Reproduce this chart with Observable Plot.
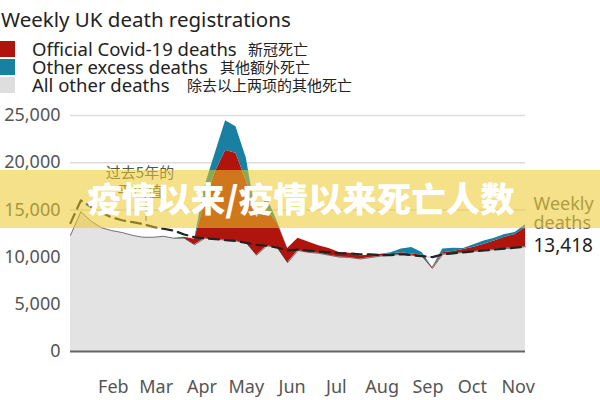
<!DOCTYPE html>
<html><head><meta charset="utf-8">
<script src="https://cdn.jsdelivr.net/npm/d3@7"></script>
<script src="https://cdn.jsdelivr.net/npm/@observablehq/plot@0.6"></script>
<style>
body{margin:0;background:#fff;}
#wrap{position:relative;width:600px;height:400px;overflow:hidden;background:#fff;}
#chart{position:absolute;left:0;top:0;}
#overlay{position:absolute;left:0;top:0;}
</style></head><body>
<div id="wrap"><div id="chart"></div>
<svg id="overlay" width="600" height="400" font-family="'Noto Sans', sans-serif"></svg>
</div>
<script>
// Week ending dates (UK weekly death registrations, 2020)
const weeks = ["2020-01-03","2020-01-10","2020-01-17","2020-01-24","2020-01-31","2020-02-07","2020-02-14","2020-02-21","2020-02-28","2020-03-06","2020-03-13","2020-03-20","2020-03-27","2020-04-03","2020-04-10","2020-04-17","2020-04-24","2020-05-01","2020-05-08","2020-05-15","2020-05-22","2020-05-29","2020-06-05","2020-06-12","2020-06-19","2020-06-26","2020-07-03","2020-07-10","2020-07-17","2020-07-24","2020-07-31","2020-08-07","2020-08-14","2020-08-21","2020-08-28","2020-09-04","2020-09-11","2020-09-18","2020-09-25","2020-10-02","2020-10-09","2020-10-16","2020-10-23","2020-10-30","2020-11-06"];
const allOther = [12300,14800,13800,13100,12800,12600,12300,12100,12100,12200,12000,12000,11300,12000,11900,11800,11700,11500,10200,11200,11000,9400,10700,10500,10400,10200,10000,9950,9800,9950,10100,10200,10300,10200,10100,8800,10300,10400,10500,10600,10700,10800,10900,11000,11100];
const covid = [0,0,0,0,0,0,0,0,0,0,0,100,600,3800,7100,9500,9300,6600,4000,3800,2600,1500,1300,1100,800,700,500,450,350,250,200,150,150,120,100,100,150,200,300,450,650,900,1200,1400,2000];
const otherExcess = [0,0,0,0,0,0,0,0,0,0,0,0,0,1700,2000,3150,2800,2400,0,1300,200,0,0,0,0,0,0,0,0,0,0,100,400,700,300,0,400,350,100,250,350,300,300,200,318];
const average5yr = [13600,16000,15300,14700,14200,13900,13700,13500,13200,13000,12800,12400,12100,12000,11900,11800,11700,11500,11300,11200,11000,10700,10800,10700,10600,10500,10400,10400,10300,10300,10200,10200,10300,10200,10100,10000,10300,10400,10500,10600,10700,10800,10900,11000,11100];
const latestTotal = 13418;

const seriesNames = ["All other deaths","Official Covid-19 deaths","Other excess deaths"];
const seriesColors = ["#e3e3e3","#b1140c","#1a80a2"];
const yTicks = [0,5000,10000,15000,20000,25000];
const monthTicks = ["2020-02-01","2020-03-01","2020-04-01","2020-05-01","2020-06-01","2020-07-01","2020-08-01","2020-09-01","2020-10-01","2020-11-01"];

const rows = [];
weeks.forEach((w,i)=>{
  const d = new Date(w);
  rows.push({date:d, series:seriesNames[0], value:allOther[i]});
  rows.push({date:d, series:seriesNames[1], value:covid[i]});
  rows.push({date:d, series:seriesNames[2], value:otherExcess[i]});
});
const weekRows = weeks.map((w,i)=>({date:new Date(w), avg:average5yr[i], other:allOther[i]}));
const last = {date:new Date(weeks[weeks.length-1]), total:latestTotal};
const fmt = d3.format(",");

const chart = Plot.plot({
  width:600, height:400,
  marginLeft:70, marginRight:75, marginTop:115, marginBottom:49,
  style:{fontFamily:"'Noto Sans', sans-serif", fontSize:"18px", color:"#555", background:"transparent", overflow:"visible"},
  x:{type:"utc", domain:[new Date(weeks[0]), new Date(weeks[weeks.length-1])], ticks:monthTicks.map(d=>new Date(d)), tickFormat:d3.utcFormat("%b"), tickSize:0, tickPadding:29, label:null},
  y:{domain:[0,25000], ticks:yTicks, tickFormat:fmt, tickSize:0, tickPadding:10, label:null},
  color:{domain:seriesNames, range:seriesColors},
  marks:[
    Plot.ruleY(yTicks.filter(t=>t>0), {stroke:"#dcdcdc", strokeWidth:1.5}),
    Plot.areaY(rows, {x:"date", y:"value", fill:"series", order:seriesNames}),
    Plot.lineY(weekRows, {x:"date", y:"other", stroke:"#333", strokeWidth:0.8, strokeOpacity:0.8}),
    Plot.lineY(weekRows, {x:"date", y:"avg", stroke:"#222", strokeWidth:2.2, strokeDasharray:"10,6"}),
    Plot.ruleY([0], {stroke:"#666", strokeWidth:2}),
    Plot.text([last], {x:"date", y:"total", text:()=>"Weekly", dx:8, dy:-21, textAnchor:"start", fill:"#666", fontSize:18}),
    Plot.text([last], {x:"date", y:"total", text:()=>"deaths", dx:8, dy:-2, textAnchor:"start", fill:"#666", fontSize:18}),
    Plot.text([last], {x:"date", y:"total", text:d=>fmt(d.total), dx:8, dy:21, textAnchor:"start", fill:"#222", fontSize:19})
  ]
});
document.getElementById("chart").appendChild(chart);

const ov = d3.select("#overlay");
ov.append("text").attr("x",1).attr("y",27).attr("font-size",20.5).attr("fill","#222").text("Weekly UK death registrations");
const legend = [
  {name:"Official Covid-19 deaths", zh:"新冠死亡", color:seriesColors[1], zx:248},
  {name:"Other excess deaths", zh:"其他额外死亡", color:seriesColors[2], zx:220},
  {name:"All other deaths", zh:"除去以上两项的其他死亡", color:"#dedede", zx:187}
];
legend.forEach((l,i)=>{
  const y0 = 41 + i*18;
  ov.append("rect").attr("x",0).attr("y",y0).attr("width",15).attr("height",16).attr("fill",l.color);
  ov.append("text").attr("x",32).attr("y",y0+15).attr("font-size",18.5).attr("fill","#222").text(l.name);
  ov.append("text").attr("x",l.zx).attr("y",y0+14).attr("font-size",15).attr("font-family","'Noto Sans CJK SC', sans-serif").attr("fill","#222").text(l.zh);
});
// annotation for the dashed line
ov.append("text").attr("x",140).attr("y",178).attr("text-anchor","middle").attr("font-size",15).attr("font-family","'Noto Sans CJK SC', sans-serif").attr("fill","#555").text("过去5年的");
ov.append("text").attr("x",140).attr("y",197).attr("text-anchor","middle").attr("font-size",15).attr("font-family","'Noto Sans CJK SC', sans-serif").attr("fill","#555").text("平均值");
ov.append("line").attr("x1",146).attr("x2",146).attr("y1",201).attr("y2",221).attr("stroke","#555").attr("stroke-width",1);
// watermark banner
ov.append("rect").attr("x",0).attr("y",170).attr("width",600).attr("height",58).attr("fill","rgb(235,200,40)").attr("fill-opacity",0.55);
ov.append("text").attr("x",301).attr("y",212).attr("text-anchor","middle").attr("font-size",34.5).attr("font-weight",900).attr("font-family","'Noto Sans CJK SC', sans-serif").attr("fill","#fff").text("疫情以来/疫情以来死亡人数");
</script>
</body></html>
